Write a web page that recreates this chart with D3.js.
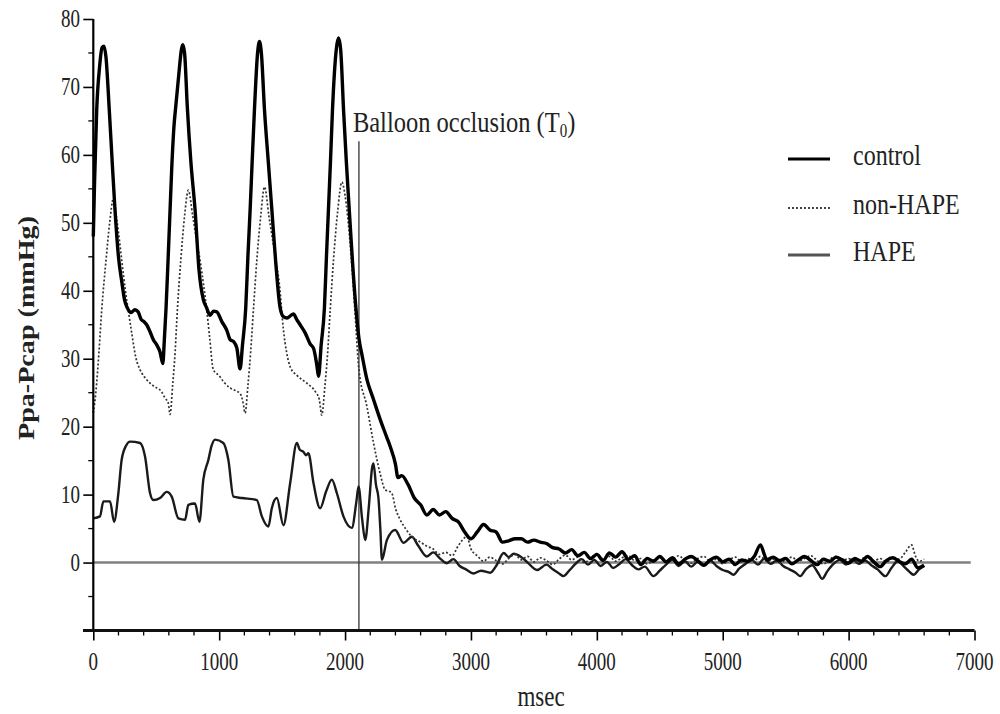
<!DOCTYPE html>
<html>
<head>
<meta charset="utf-8">
<script src="https://cdn.jsdelivr.net/npm/d3@7"></script>
<style>
  html, body { margin: 0; padding: 0; background: #fff; }
  svg { display: block; }
  text { font-family: "Liberation Serif", "Times New Roman", serif; fill: #222; }
</style>
</head>
<body>
<svg id="chart" width="1000" height="714"></svg>
<script>
// ---------------- DATA ----------------
const xMajorTicks = [0, 1000, 2000, 3000, 4000, 5000, 6000, 7000];
const yMajorTicks = [-10, 0, 10, 20, 30, 40, 50, 60, 70, 80];
const yLabelTicks = [0, 10, 20, 30, 40, 50, 60, 70, 80];
const seriesNames = ["control", "non-HAPE", "HAPE"];
const occlusionTime = 2110;
const occlusionTop = 62;
const annotationText = "Balloon occlusion (T";
const annotationSub = "0";
const xTitle = "msec";
const yTitle = "Ppa-Pcap (mmHg)";

// control: [msec, mmHg]
const controlData = [
  [0,48],[10,56],[27,66.6],[50,73],[70,75.8],[85,76],[100,74.5],[127,66.6],[150,59],[172,52],[200,45],[225,41.5],[250,38.5],[270,37.5],[300,36.8],[330,37.2],[356,36.9],[380,35.8],[400,35.5],[424,35],[450,34],[477,32.8],[505,32],[530,31],[552,29.3],[565,33],[578,37.5],[595,45],[610,52],[623,58],[640,64],[657,67.5],[680,72],[700,75.5],[711,76.2],[725,75],[747,67],[775,59],[808,52],[840,43],[874,38.7],[900,37.5],[928,36.4],[955,37],[981,36.9],[1020,35.5],[1060,34.2],[1087,32.8],[1115,32.5],[1140,31.6],[1166,28.5],[1185,32],[1211,37.5],[1228,45],[1246,52],[1262,59],[1280,66.6],[1305,75],[1320,76.7],[1335,75],[1360,66.6],[1390,59],[1418,52],[1450,44],[1484,37.5],[1510,36.2],[1540,36],[1565,36.3],[1590,36.6],[1615,35.8],[1643,35],[1683,33.8],[1722,32.2],[1750,31.5],[1776,29],[1789,27.4],[1810,32],[1836,37.5],[1852,45],[1868,52],[1884,59],[1900,66.6],[1930,75.5],[1948,77.2],[1965,75.5],[1988,66.6],[2010,59],[2033,52],[2060,44],[2086,37.5],[2110,33],[2135,30.5],[2173,27],[2226,24],[2280,21],[2330,18.5],[2360,17],[2400,14.5],[2420,12.5],[2450,12.8],[2500,11.5],[2550,9.5],[2600,8.5],[2650,7],[2700,7.8],[2750,7],[2800,7.5],[2850,6.5],[2900,6],[2950,4.5],[3000,3.5],[3050,4.5],[3100,5.6],[3150,4.8],[3200,4.5],[3250,3],[3300,3.2],[3350,3.5],[3400,3.5],[3450,3],[3500,3.3],[3550,3],[3600,2.8],[3650,2.2],
  [3700,2.0],[3750,1.4],[3800,1.9],[3850,1.0],[3900,1.5],[3950,0.6],[4000,1.2],[4050,0.3],[4100,1.4],[4150,0.8],[4200,1.6],[4250,0.5],[4300,1.0],[4350,-0.3],[4400,0.6],[4450,0.2],[4500,0.9],[4550,0.1],[4600,0.7],[4650,-0.2],[4700,0.5],[4750,0.9],[4800,0.3],[4850,-0.4],[4900,0.4],[4950,0.8],[5000,0.1],[5050,0.5],[5100,-0.3],[5150,0.4],[5200,0.2],[5250,0.9],[5300,2.6],[5330,1.2],[5350,0.4],[5400,0.8],[5450,0.3],[5500,0.6],[5550,-0.2],[5600,0.4],[5650,0.9],[5700,0.3],[5750,-0.3],[5800,0.5],[5850,0.2],[5900,0.8],[5950,0.4],[6000,-0.1],[6050,0.6],[6100,0.2],[6150,0.9],[6200,0.1],[6250,-0.6],[6300,0.3],[6350,0.7],[6400,0.2],[6450,-0.2],[6500,0.5],[6550,-0.8],[6600,-0.4]
];

const nonHapeData = [
  [0,22],[20,25],[45,31],[67,37.2],[101,44.5],[130,50],[159,53.5],[190,50],[226,44.5],[255,40],[279,37],[305,33.8],[340,30],[371,28.4],[420,27],[477,26],[540,25.2],[570,24.2],[595,23.5],[610,21.8],[630,26],[650,31],[668,37.2],[695,44.5],[725,51],[755,54.8],[790,51],[820,47.5],[848,44.5],[875,41],[901,37.2],[925,33],[953,28.4],[1000,27.5],[1040,26.5],[1087,25.7],[1130,25.3],[1166,24.9],[1190,23.5],[1206,22],[1228,26],[1250,31],[1272,37.2],[1299,44.5],[1330,51],[1360,55.3],[1395,51],[1420,48],[1450,44.5],[1478,41],[1510,34.3],[1535,31],[1564,28.8],[1620,27.5],[1696,26.4],[1762,25.2],[1795,24],[1815,21.7],[1840,26],[1862,31],[1882,37.2],[1908,44.5],[1940,51.5],[1975,56],[2000,54],[2040,47],[2075,38],[2110,28.4],[2173,23],[2226,17.6],[2280,13],[2318,10.7],[2350,10.5],[2372,10.2],[2400,8],[2438,6.3],[2480,5],[2531,3.8],[2600,3],[2650,2.4],[2700,2],[2750,1.2],[2800,1.5],[2850,1.0],[2900,2.5],[2968,3.8],[3000,2],
  [3050,1.0],[3100,0.2],[3150,0.8],[3200,0.3],[3250,-0.2],[3300,0.6],[3350,1.2],[3400,0.4],[3450,0.9],[3500,0.1],[3550,0.7],[3600,0.3],[3650,-0.3],[3700,0.5],[3750,1.1],[3800,0.4],[3850,0.8],[3900,0.0],[3950,0.6],[4000,1.3],[4050,0.5],[4100,0.9],[4150,0.2],[4200,0.7],[4250,1.0],[4300,0.3],[4350,0.6],[4400,-0.2],[4450,0.4],[4500,0.8],[4550,0.2],[4600,0.5],[4650,1.0],[4700,0.3],[4750,-0.1],[4800,0.6],[4850,0.9],[4900,0.2],[4950,0.5],[5000,-0.2],[5050,0.4],[5100,0.8],[5150,0.1],[5200,0.6],[5250,0.3],[5300,0.9],[5350,0.2],[5400,0.5],[5450,-0.1],[5500,0.4],[5550,0.8],[5600,0.2],[5650,0.6],[5700,1.0],[5750,0.3],[5800,-0.2],[5850,0.5],[5900,0.9],[5950,0.3],[6000,0.6],[6050,0.0],[6100,0.5],[6150,0.8],[6200,0.2],[6250,0.6],[6300,0.1],[6350,0.7],[6400,0.5],[6450,1.5],[6500,2.6],[6530,1.0],[6560,0.2],[6600,0.5]
];

const hapeData = [
  [0,6.5],[53,6.8],[80,9.0],[133,9.0],[165,6.0],[199,10.2],[225,15.1],[260,17.2],[292,17.8],[371,17.6],[411,15.6],[451,10.2],[477,9.2],[530,9.5],[583,10.4],[623,9.7],[676,6.5],[729,6.3],[755,8.5],[808,8.7],[843,6.0],[874,12.2],[914,15.1],[940,17.2],[967,18.1],[1033,17.6],[1073,15.1],[1113,9.7],[1180,9.5],[1299,9.2],[1339,6.8],[1391,5.3],[1418,8.0],[1458,9.5],[1510,5.5],[1564,11.7],[1617,17.6],[1640,16.6],[1669,16.3],[1690,15.8],[1709,16.1],[1749,11.7],[1802,8.0],[1850,10.5],[1895,12.2],[1935,10.2],[1987,6.8],[2054,5.1],[2090,9.0],[2107,11.2],[2135,6.5],[2160,3.3],[2190,8.5],[2215,14.0],[2226,14.6],[2245,11.5],[2265,9.5],[2280,5.0],[2293,0.4],[2332,3.3],[2398,4.8],[2464,2.9],[2531,3.8],[2580,2.5],[2650,0.9],[2700,1.5],[2760,0.5],[2809,-0.1],[2860,0.5],[2910,-0.5],[2960,-1.0],[3020,-1.6],[3080,-1.2],[3153,-1.5],[3200,-0.5],[3260,1.4],[3300,0.8],[3340,1.3],[3392,0.9],[3450,0.0],[3525,-1.1],
  [3600,-0.3],[3650,-1.0],[3700,-1.6],[3735,-2.0],[3780,-1.2],[3830,-0.2],[3880,0.5],[3930,-0.3],[3980,0.4],[4030,-0.5],[4080,0.1],[4130,-0.8],[4180,-0.2],[4230,0.5],[4280,-0.4],[4330,-1.0],[4380,-0.6],[4450,-2.0],[4500,-1.2],[4550,-0.3],[4600,0.4],[4650,-0.5],[4700,0.2],[4750,-0.6],[4800,0.1],[4850,-0.4],[4900,0.3],[4950,-0.5],[5000,-1.1],[5050,-1.4],[5085,-1.8],[5130,-0.9],[5180,-0.2],[5230,0.4],[5280,-0.3],[5330,0.6],[5380,-0.2],[5430,0.3],[5480,-0.5],[5530,-1.0],[5580,-1.5],[5616,-2.0],[5660,-1.0],[5710,-0.4],[5760,-1.6],[5790,-2.4],[5830,-1.3],[5880,-0.2],[5930,0.4],[5980,-0.3],[6030,0.5],[6080,-0.2],[6130,0.3],[6180,-0.4],[6230,-1.0],[6293,-2.0],[6340,-0.8],[6390,0.2],[6440,-0.6],[6480,-1.3],[6516,-1.8],[6560,-1.0],[6600,-0.5]
];

const zeroLineEnd = 6970;

// ---------------- DRAW ----------------
const svg = d3.select("#chart");
const x = d3.scaleLinear().domain([0, 7000]).range([93.3, 974.5]);
const y = d3.scaleLinear().domain([-10, 80]).range([630.5, 19]);
const FONT = '"Liberation Serif", "Times New Roman", serif';

// zero reference line
svg.append("line")
  .attr("x1", x(0)).attr("x2", x(zeroLineEnd))
  .attr("y1", y(0)).attr("y2", y(0))
  .attr("stroke", "#808080").attr("stroke-width", 2.5);

// occlusion marker line
svg.append("line")
  .attr("x1", x(occlusionTime)).attr("x2", x(occlusionTime))
  .attr("y1", y(-10)).attr("y2", y(occlusionTop))
  .attr("stroke", "#333").attr("stroke-width", 1.3);

// series
const line = d3.line().curve(d3.curveMonotoneX).x(d => x(d[0])).y(d => y(d[1]));

svg.append("path").datum(hapeData)
  .attr("d", line).attr("fill", "none")
  .attr("stroke", "#1a1a1a").attr("stroke-width", 2.4).attr("stroke-linejoin", "round");

svg.append("path").datum(nonHapeData)
  .attr("d", line).attr("fill", "none")
  .attr("stroke", "#333").attr("stroke-width", 1.7).attr("stroke-dasharray", "2,2");

svg.append("path").datum(controlData)
  .attr("d", line).attr("fill", "none")
  .attr("stroke", "#000").attr("stroke-width", 3.4).attr("stroke-linejoin", "round");

// y axis
const yAxisG = svg.append("g").attr("transform", `translate(${x(0)},0)`)
  .call(d3.axisLeft(y).tickValues(yMajorTicks).tickSize(10).tickFormat(""));
yAxisG.select(".domain").remove();
yAxisG.selectAll(".tick line").attr("stroke", "#000").attr("stroke-width", 1.6);
const yMinor = yMajorTicks.slice(0, -1).map(v => v + 5);
yAxisG.selectAll(".minor").data(yMinor).enter().append("line")
  .attr("x1", -5).attr("x2", 0).attr("y1", d => y(d)).attr("y2", d => y(d))
  .attr("stroke", "#000").attr("stroke-width", 1.3);
svg.append("line").attr("x1", x(0)).attr("x2", x(0)).attr("y1", y(80)).attr("y2", y(-10))
  .attr("stroke", "#000").attr("stroke-width", 2.2);
svg.selectAll(".ylab").data(yLabelTicks).enter().append("text")
  .attr("transform", d => `translate(80,${y(d) + 8}) scale(1,1.3)`)
  .attr("text-anchor", "end").attr("font-size", 19).attr("font-family", FONT)
  .text(d => d);

// x axis
const xAxisG = svg.append("g").attr("transform", `translate(0,${y(-10)})`)
  .call(d3.axisBottom(x).tickValues(xMajorTicks).tickSize(10).tickFormat(""));
xAxisG.select(".domain").remove();
xAxisG.selectAll(".tick line").attr("stroke", "#000").attr("stroke-width", 1.6);
const xMinor = d3.range(200, 7000, 200).filter(v => v % 1000 !== 0);
xAxisG.selectAll(".minor").data(xMinor).enter().append("line")
  .attr("x1", d => x(d)).attr("x2", d => x(d)).attr("y1", 0).attr("y2", 5)
  .attr("stroke", "#000").attr("stroke-width", 1.3);
svg.append("line").attr("x1", 83).attr("x2", x(7000)).attr("y1", y(-10)).attr("y2", y(-10))
  .attr("stroke", "#111").attr("stroke-width", 2.8);
svg.selectAll(".xlab").data(xMajorTicks).enter().append("text")
  .attr("transform", d => `translate(${x(d)},670) scale(1,1.3)`)
  .attr("text-anchor", "middle").attr("font-size", 19).attr("font-family", FONT)
  .text(d => d3.format("d")(d));

// axis titles
svg.append("text")
  .attr("transform", "translate(541,706) scale(1,1.25)")
  .attr("text-anchor", "middle").attr("font-size", 23).attr("font-family", FONT)
  .text(xTitle);
svg.append("text")
  .attr("transform", "translate(34,328) rotate(-90) scale(1.25,1)")
  .attr("text-anchor", "middle").attr("font-size", 22.5).attr("font-weight", "bold")
  .attr("font-family", FONT)
  .text(yTitle);

// annotation
const ann = svg.append("text")
  .attr("transform", `translate(${x(occlusionTime) - 6},132) scale(1,1.2)`)
  .attr("font-size", 24.5).attr("font-family", FONT);
ann.append("tspan").text(annotationText);
ann.append("tspan").attr("font-size", 15).attr("dy", 4).text(annotationSub);
ann.append("tspan").attr("dy", -4).text(")");

// legend
const legendY = [159, 208, 255];
const legendStyles = [
  {stroke: "#000", width: 3.2, dash: null},
  {stroke: "#444", width: 1.8, dash: "2,2"},
  {stroke: "#555", width: 3.2, dash: null}
];
seriesNames.forEach((name, i) => {
  svg.append("line")
    .attr("x1", 788).attr("x2", 830).attr("y1", legendY[i]).attr("y2", legendY[i])
    .attr("stroke", legendStyles[i].stroke).attr("stroke-width", legendStyles[i].width)
    .attr("stroke-dasharray", legendStyles[i].dash);
  svg.append("text")
    .attr("transform", `translate(853,${legendY[i] + 6}) scale(1,1.2)`)
    .attr("font-size", 24).attr("font-family", FONT)
    .text(name);
});
</script>
</body>
</html>
